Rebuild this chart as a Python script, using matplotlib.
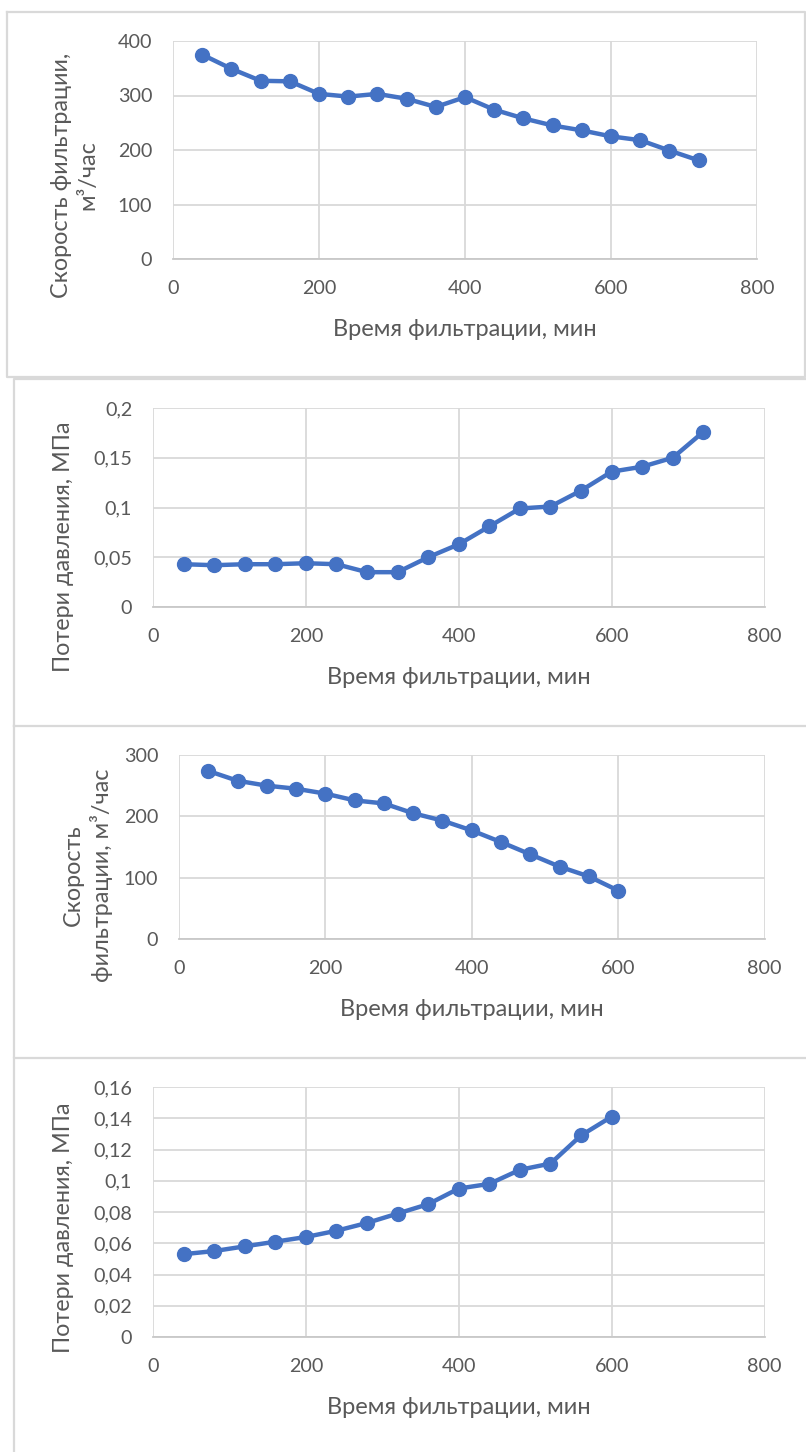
import numpy as np
import matplotlib
matplotlib.use("Agg")
import matplotlib.pyplot as plt
from matplotlib.lines import Line2D
from matplotlib.ticker import FuncFormatter, MultipleLocator

plt.rcParams['font.family'] = ['Lato', 'DejaVu Sans']

# data
time_long = [40, 80, 120, 160, 200, 240, 280, 320, 360, 400, 440, 480, 520, 560, 600, 640, 680, 720]
speed_1 = [375, 349, 327, 326, 303, 298, 303, 294, 279, 297, 274, 258, 245, 236, 225, 218, 199, 181]
loss_1 = [0.043, 0.042, 0.043, 0.043, 0.044, 0.043, 0.035, 0.035, 0.050, 0.063, 0.081, 0.099,
          0.101, 0.117, 0.136, 0.141, 0.150, 0.176]

time_short = [40, 80, 120, 160, 200, 240, 280, 320, 360, 400, 440, 480, 520, 560, 600]
speed_2 = [274, 258, 250, 245, 237, 226, 221, 205, 193, 177, 158, 138, 118, 102, 79]
loss_2 = [0.053, 0.055, 0.058, 0.061, 0.064, 0.068, 0.073, 0.079, 0.085, 0.095, 0.098,
          0.107, 0.111, 0.129, 0.141]

x_label = "Время фильтрации, мин"
y_labels = ["Скорость фильтрации,\nм³/час", "Потери давления, МПа",
            "Скорость\nфильтрации, м³/час", "Потери давления, МПа"]

W, H = 806, 1452
BLUE = "#4472C4"
GRID = "#d9d9d9"
TXT = "#595959"

fig = plt.figure(figsize=(W / 100, H / 100), dpi=100)


def comma(v, pos):
    return ("%g" % round(v, 4)).replace(".", ",")


def panel(box, x, y, ymax, ystep, ylabel, ylab_xy, xlab_xy):
    l, t, r, b = box
    ax = fig.add_axes([l / W, 1 - b / H, (r - l) / W, (b - t) / H])
    ax.plot(x, y, color=BLUE, lw=3.2, marker="o", ms=10, zorder=3, clip_on=False)
    ax.set_xlim(0, 800)
    ax.set_ylim(0, ymax)
    ax.xaxis.set_major_locator(MultipleLocator(200))
    ax.yaxis.set_major_locator(MultipleLocator(ystep))
    ax.yaxis.set_major_formatter(FuncFormatter(comma))
    ax.grid(True, color=GRID, lw=1.3)
    ax.set_axisbelow(True)
    for s in ["top", "right", "left"]:
        ax.spines[s].set_visible(False)
    ax.spines["bottom"].set_color("#c8c8c8")
    ax.spines["bottom"].set_linewidth(1.3)
    ax.tick_params(length=0, labelsize=14.2, labelcolor=TXT, pad=15)
    fig.text(xlab_xy[0] / W, 1 - xlab_xy[1] / H, x_label, ha="center", va="center",
             fontsize=17, color=TXT)
    fig.text(ylab_xy[0] / W, 1 - ylab_xy[1] / H, ylabel, ha="center", va="center",
             rotation=90, fontsize=16.8, color=TXT, linespacing=1.3, multialignment="center")
    return ax


panel((173, 41, 757, 259), time_long, speed_1, 400, 100, y_labels[0], (75, 175), (465, 330))
panel((153, 408, 764.5, 607), time_long, loss_1, 0.2, 0.05, y_labels[1], (64, 547), (459, 678))
panel((179, 755, 764.5, 939), time_short, speed_2, 300, 100, y_labels[2], (88, 875), (472, 1010))
panel((153, 1087, 764.5, 1337), time_short, loss_2, 0.16, 0.02, y_labels[3], (64, 1228), (459, 1408))

# light frames around the pasted charts
frames = [
    [(7, 12), (805, 12), (805, 377), (7, 377), (7, 12)],
    [(14, 726), (14, 379), (806, 379)],
    [(14, 726), (806, 726)],
    [(14, 726), (14, 1058), (805, 1058)],
    [(14, 1058), (14, 1452)],
]
for pts in frames:
    xs = [p[0] / W for p in pts]
    ys = [1 - p[1] / H for p in pts]
    fig.add_artist(Line2D(xs, ys, color=GRID, lw=1.6, transform=fig.transFigure))

fig.savefig("out.png", dpi=100, facecolor="white")
